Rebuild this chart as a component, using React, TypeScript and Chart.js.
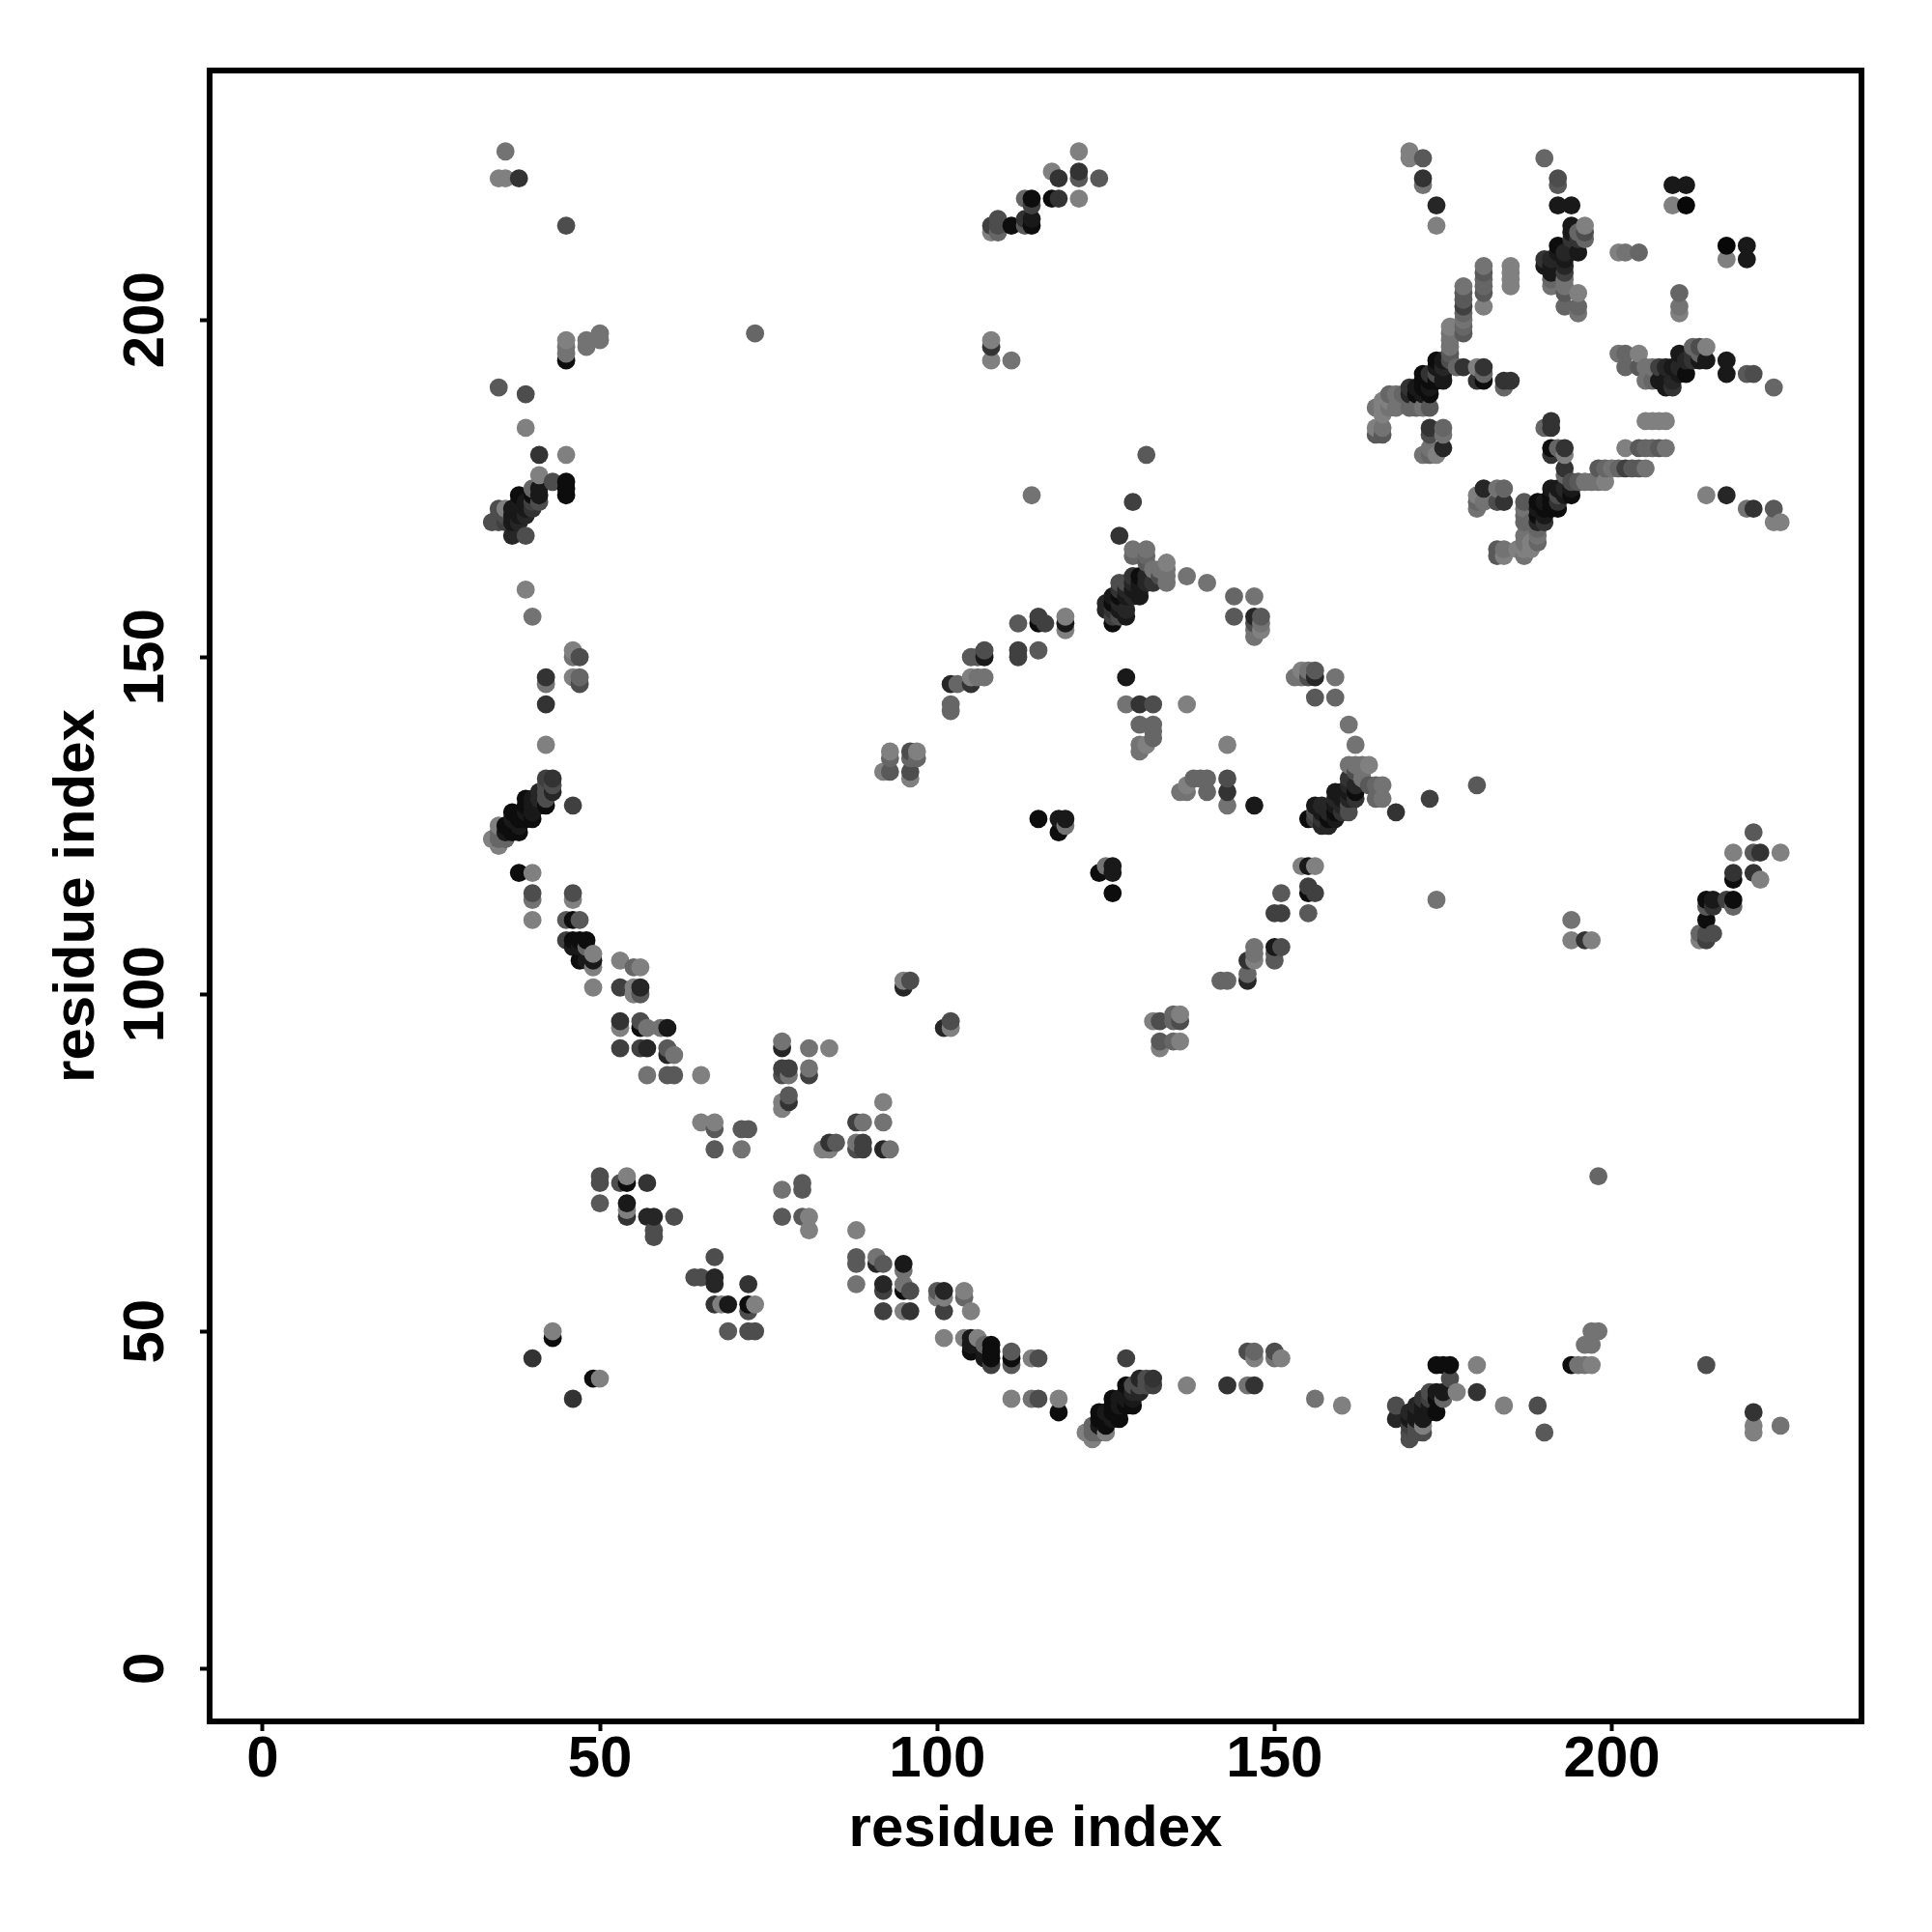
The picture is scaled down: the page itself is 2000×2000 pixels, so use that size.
import React, { useEffect, useRef } from "react";
import { Chart, registerables } from "chart.js";

Chart.register(...registerables);

const AXIS_TITLE = "residue index";
const tickValues = [0, 50, 100, 150, 200];
const axisMin = -7.85;
const axisMax = 237;

// Each contact is [residue i, residue j, darkness %]; the map is symmetric, so only i < j is listed.
const farLeftTop = [
  [36,225,55],[35,221,50],[36,221,50],[38,221,80],[45,214,70],[45,197,50],[45,196,55],[45,195,55],[45,194,95],
  [48,197,55],[48,196,55],[50,198,55],[50,197,55],[73,198,60],[35,190,65],[39,189,70],[39,184,50],
  [41,180,80],[45,180,50],[41,177,50],[43,176,70],[45,176,95],[45,175,95],[45,174,95],
];
const helixLeftUpper = [
  [34,170,70],[35,170,70],[36,170,75],[37,170,90],[38,170,85],[35,171,70],[35,172,70],[36,172,50],[36,171,70],
  [37,171,90],[37,172,90],[38,172,90],[38,171,90],[39,171,85],[39,172,90],[39,173,90],[38,173,90],[38,174,95],
  [40,172,80],[40,173,75],[40,174,95],[40,175,60],[41,173,70],[41,174,90],[41,175,90],[37,168,85],[39,168,70],
  [39,160,50],[40,156,55],[46,151,50],[47,150,70],[46,150,55],[46,147,50],[47,147,60],[47,146,70],
  [42,147,80],[42,146,55],[42,143,80],[42,137,50],
];
const helixLeftLower = [
  [34,123,50],[35,122,50],[36,123,60],[35,123,60],[35,124,60],[35,125,50],[36,124,90],[36,125,95],[37,124,95],
  [37,125,95],[37,126,90],[37,127,95],[38,124,95],[38,126,95],[38,125,90],[39,127,90],[39,128,95],[39,129,95],
  [39,126,95],[40,126,95],[40,127,90],[40,128,90],[40,129,90],[41,128,90],[41,129,85],[41,130,85],[42,128,95],
  [42,129,70],[42,130,70],[42,131,70],[42,132,75],[43,130,85],[43,131,70],[43,132,80],[46,128,75],
];
const arcLower = [
  [38,118,95],[40,118,50],[40,115,70],[40,114,55],[40,111,50],[46,115,70],[46,114,50],[45,111,65],[46,111,95],
  [47,111,65],[45,108,75],[46,108,95],[47,108,95],[48,108,95],[46,107,90],[47,107,90],[48,107,60],[47,105,95],
  [48,105,90],[49,106,50],[49,105,90],[49,104,50],[49,101,50],[53,105,50],[55,104,60],[56,104,50],[53,101,75],
  [55,101,50],[55,100,50],[56,101,85],[56,100,65],[53,96,80],[53,95,50],[56,96,70],[56,95,95],[57,95,55],
  [59,95,55],[60,95,90],[53,92,75],[56,92,75],[57,92,85],[60,92,65],[60,91,85],[61,91,55],[57,88,55],[60,88,65],
  [61,88,65],[65,88,50],
];
const crossCentre = [
  [77,93,55],[77,92,85],[81,92,55],[84,92,50],[77,89,75],[78,89,75],[77,88,70],[78,88,55],[81,89,55],[81,88,75],
  [78,85,65],[78,84,80],[77,84,50],[77,83,50],[65,81,50],[67,81,50],[67,80,65],[71,80,65],[72,80,65],[67,77,65],
  [71,77,55],[50,73,70],[50,72,70],[50,69,65],[53,72,70],[54,73,50],[54,72,95],[57,72,80],[54,69,90],[54,68,50],
  [54,67,80],[57,67,85],[58,67,85],[58,65,70],[58,64,70],[61,67,70],[43,50,50],[43,49,95],[40,46,80],
];
const ringLeft = [
  [93,136,50],[93,135,60],[92,133,50],[93,133,65],[96,136,70],[97,136,50],[97,135,60],[96,135,60],[96,133,70],
  [96,132,50],[95,102,50],[96,102,70],[95,101,85],[115,126,95],[118,126,90],[119,126,90],[118,124,95],[119,125,55],
];
const middleTop = [
  [121,225,50],[117,222,50],[118,221,80],[121,222,80],[121,221,65],[124,221,65],[113,218,60],[114,218,95],
  [114,217,75],[117,218,95],[118,218,80],[121,218,50],[108,214,75],[109,215,70],[109,214,70],[108,213,50],
  [109,213,60],[111,214,95],[113,214,65],[113,215,80],[114,215,90],[114,214,95],[108,197,50],[108,196,80],
  [108,194,50],[111,194,55],[131,180,65],[114,174,55],[129,173,75],[127,168,80],
];
const centralCluster = [
  [129,166,55],[131,166,55],[129,165,60],[131,165,60],[131,164,65],[134,164,50],[134,163,55],[133,163,55],
  [134,162,55],[133,162,70],[132,163,55],[131,162,85],[132,161,80],[134,161,55],[131,161,85],[137,162,55],
  [140,161,55],[129,162,80],[130,162,95],[129,161,85],[130,161,90],[128,161,70],[127,161,70],[127,160,80],
  [129,160,90],[130,160,90],[130,159,90],[129,159,85],[128,160,85],[127,159,95],[126,159,90],[128,159,90],
  [125,158,85],[126,158,95],[127,158,85],[125,157,85],[126,157,80],[127,157,90],[128,157,85],[126,156,75],
  [127,156,70],[128,156,90],[126,155,95],
];
const ringTop = [
  [112,155,65],[115,156,75],[115,155,95],[116,155,75],[119,156,50],[119,155,90],[119,154,50],[112,151,75],
  [112,150,75],[115,151,65],[105,150,65],[106,150,65],[107,151,70],[107,150,90],[105,147,50],[105,146,80],
  [106,147,55],[107,147,55],[102,146,85],[103,146,60],[102,143,60],[102,142,60],[128,147,90],[128,143,55],
  [130,143,80],[132,143,70],[137,143,50],[130,140,60],[132,140,60],[132,139,60],[132,138,60],[131,137,50],
  [130,137,55],[130,136,55],[144,159,60],[147,159,55],[144,156,65],[147,156,85],[148,156,65],[147,155,70],
  [148,155,55],[148,154,50],[147,154,55],[147,153,55],
];
const upperRightTop = [
  [170,225,50],[170,224,50],[172,224,65],[172,221,80],[172,220,55],[174,217,85],[174,214,50],[190,224,60],
  [192,221,70],[192,220,65],[192,217,90],[194,217,90],[209,220,90],[211,220,90],[209,217,50],[211,217,97],
  [201,210,50],[202,210,55],[204,210,60],[194,214,90],[196,214,50],[194,213,90],[195,213,60],[196,213,70],
  [196,212,60],[195,212,80],[194,212,80],[192,211,95],[194,211,85],[192,210,90],[193,210,85],[195,210,90],
  [190,209,80],[191,209,85],[193,209,90],[190,208,90],[191,208,90],[193,208,85],[191,207,90],[193,207,75],
  [191,206,60],[191,205,55],[193,206,55],[193,205,55],[193,204,65],[195,204,50],[195,202,60],[195,201,55],
  [193,202,60],
];
const upperRightColumns = [
  [181,208,55],[181,207,65],[181,206,60],[181,205,60],[181,204,65],[181,202,50],[185,208,50],[185,207,50],
  [185,206,50],[185,205,50],[178,205,55],[178,204,65],[178,203,65],[178,202,75],[178,201,60],[178,200,55],
  [178,199,60],[178,198,65],[176,199,50],[176,198,55],[176,197,55],[176,196,55],[176,195,65],[176,194,70],
];
const upperRightDiagonal = [
  [174,194,95],[175,194,90],[174,193,90],[175,193,85],[178,193,80],[177,193,60],[172,192,95],[173,192,80],
  [174,192,70],[175,192,90],[172,191,95],[174,191,95],[175,191,90],[173,191,95],[171,190,90],[172,190,95],
  [173,190,90],[173,189,95],[172,189,90],[171,189,95],[170,190,80],[170,189,85],[169,189,60],[168,189,55],
  [167,189,60],[167,188,50],[166,188,50],[170,188,60],[171,187,60],[173,187,65],[168,187,55],[167,187,55],
  [166,187,50],[165,187,55],[166,186,50],[166,184,55],[165,184,50],[165,183,65],[166,183,65],[172,187,55],
  [170,187,60],[181,193,80],[180,193,50],[181,192,60],[181,191,95],[180,191,80],[184,191,80],[185,191,80],
  [184,190,60],[173,184,80],[175,184,60],[173,183,70],[175,183,55],[173,181,55],[175,181,85],[173,180,60],
  [174,180,50],[172,180,55],
];

const contacts = [
  ...farLeftTop, ...helixLeftUpper, ...helixLeftLower, ...arcLower, ...crossCentre, ...ringLeft,
  ...middleTop, ...centralCluster, ...ringTop, ...upperRightTop, ...upperRightColumns, ...upperRightDiagonal,
];

const FONT = { family: "'Liberation Sans', Arial, sans-serif", size: 60, weight: "bold" as const };

const framePlugin = {
  id: "frame",
  afterDatasetsDraw(chart: any) {
    const { ctx, chartArea: a } = chart;
    ctx.save();
    ctx.strokeStyle = "#000";
    ctx.lineWidth = 6;
    ctx.strokeRect(a.left, a.top, a.right - a.left, a.bottom - a.top);
    ctx.restore();
  },
};

function axis(title: any, fit: (s: any) => void, ticks: any) {
  return {
    type: "linear" as const,
    min: axisMin,
    max: axisMax,
    afterFit: fit,
    afterBuildTicks: (s: any) => { s.ticks = tickValues.map((value) => ({ value })); },
    border: { display: false },
    grid: { drawOnChartArea: false, drawTicks: true, tickLength: 10, tickWidth: 4, tickColor: "#000" },
    ticks: { color: "#000", font: FONT, autoSkip: false, ...ticks },
    title: { display: true, text: AXIS_TITLE, color: "#000", font: FONT, ...title },
  };
}

function greyOf(darkness: number) {
  const v = Math.round(255 * (1 - darkness / 100));
  return `rgb(${v},${v},${v})`;
}

export default function App() {
  const ref = useRef<HTMLCanvasElement>(null);
  useEffect(() => {
    const points = [
      ...contacts.map((c) => ({ x: c[0], y: c[1], s: c[2] })),
      ...contacts.map((c) => ({ x: c[1], y: c[0], s: c[2] })),
    ].sort((a, b) => a.x - b.x || a.y - b.y);
    const chart = new Chart(ref.current!, {
      type: "scatter",
      data: {
        datasets: [{
          data: points,
          pointRadius: 9.4,
          pointBorderWidth: 0,
          pointBackgroundColor: points.map((p) => greyOf(p.s)),
        }],
      },
      options: {
        animation: false,
        responsive: false,
        devicePixelRatio: 1,
        events: [],
        layout: { padding: { top: 73, right: 73, left: 0, bottom: 0 } },
        plugins: { legend: { display: false }, tooltip: { enabled: false } },
        scales: {
          x: axis({ padding: { top: 0, bottom: 70 } }, (s: any) => { s.height = 218; }, { padding: -6, maxRotation: 0 }),
          y: axis({ padding: { top: 44, bottom: 0 } }, (s: any) => { s.width = 217; }, { padding: 4, minRotation: 90, maxRotation: 90, crossAlign: "center" }),
        },
      } as any,
      plugins: [framePlugin],
    });
    return () => chart.destroy();
  }, []);
  return (
    <div style={{ position: "absolute", left: 0, top: 0, width: 2000, height: 2000, background: "#fff" }}>
      <canvas ref={ref} width={2000} height={2000} style={{ display: "block" }} />
    </div>
  );
}
